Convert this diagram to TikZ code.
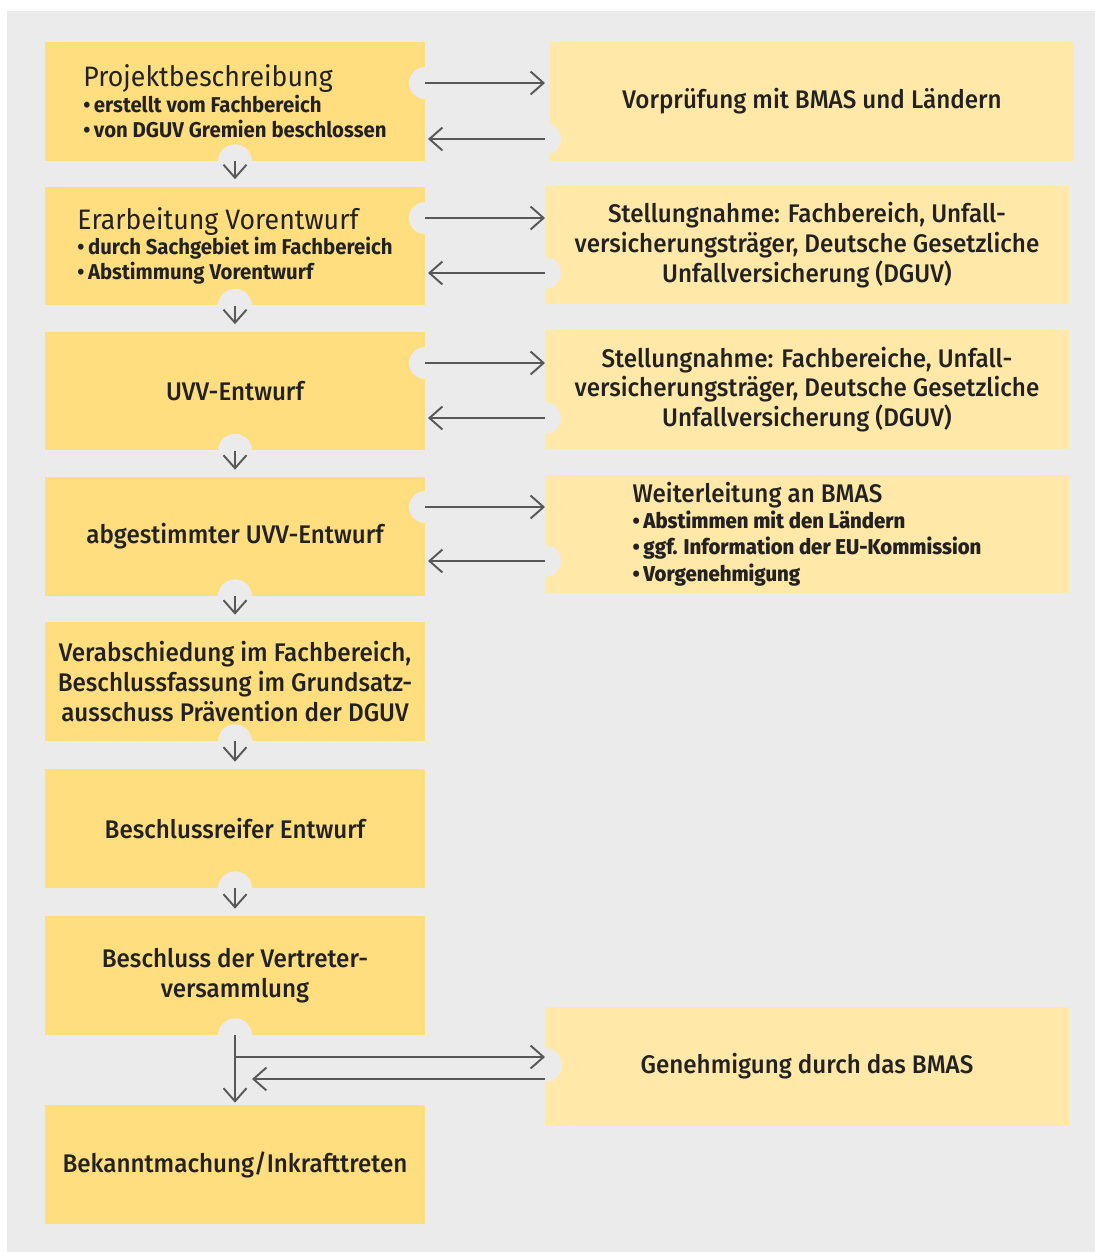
\documentclass[tikz,border=0pt]{standalone}
\usepackage{fontspec}
\setmainfont{Fira Sans}[FakeStretch=0.95]
\newfontfamily\medfont{Fira Sans Medium}[FakeStretch=0.95]
\usetikzlibrary{arrows.meta}

\definecolor{bggrey}{HTML}{EBEBEB}
\definecolor{stepyellow}{HTML}{FFDE80}
\definecolor{noteyellow}{HTML}{FFE8A8}
\definecolor{arrowgrey}{HTML}{585858}
\definecolor{inkdark}{HTML}{222222}

\newcommand{\itemfont}{\fontsize{12.2pt}{14.4pt}\selectfont\bfseries}
\newcommand{\bul}{\textbullet\,}

\tikzset{
  stepbox/.style={fill=stepyellow, text=inkdark, minimum width=7.6cm, minimum height=2.38cm,
    inner sep=0pt, align=center, font=\medfont\fontsize{14.5pt}{17pt}\selectfont},
  notebox/.style={fill=noteyellow, text=inkdark, minimum width=10.48cm, minimum height=2.38cm,
    inner sep=0pt, align=center, font=\medfont\fontsize{14.5pt}{17pt}\selectfont},
  titled/.style={align=left, font=\fontsize{16pt}{14.4pt}\selectfont},
  notch/.style={fill=bggrey},
  flow/.style={draw=arrowgrey, line width=1.1pt, -{Straight Barb[length=0.26cm,width=0.46cm,line width=1.1pt]}},
}

\begin{document}
\begin{tikzpicture}[x=0.02cm,y=-0.02cm]
  \useasboundingbox (0,0) rectangle (1095,1252);
  \fill[bggrey] (7,11) rectangle (1095,1252);

  % left column
  \node[stepbox,titled] (proj) at (235,101.5) {Projektbeschreibung\\{\itemfont\bul erstellt vom Fachbereich}\\{\itemfont\bul von DGUV Gremien beschlossen}};
  \node[stepbox,titled] (erarb) at (235,246) {Erarbeitung Vorentwurf\\{\itemfont\bul durch Sachgebiet im Fachbereich}\\{\itemfont\bul Abstimmung Vorentwurf}};
  \node[stepbox] (uvv) at (235,391) {UVV-Entwurf};
  \node[stepbox] (abgest) at (235,536.5) {abgestimmter UVV-Entwurf};
  \node[stepbox] (verab) at (235,681.5) {Verabschiedung im Fachbereich,\\Beschlussfassung im Grundsatz-\\ausschuss Prävention der DGUV};
  \node[stepbox] (reif) at (235,828.5) {Beschlussreifer Entwurf};
  \node[stepbox] (vertr) at (235,975.5) {Beschluss der Vertreter-\\versammlung};
  \node[stepbox] (bekannt) at (235,1164.5) {Bekanntmachung/Inkrafttreten};

  % right column
  \node[notebox] (vorpr) at (812,101.5) {Vorprüfung mit BMAS und Ländern};
  \node[notebox] (stell1) at (807,245) {Stellungnahme: Fachbereich, Unfall-\\versicherungsträger, Deutsche Gesetzliche\\Unfallversicherung (DGUV)};
  \node[notebox] (stell2) at (807,389.5) {Stellungnahme: Fachbereiche, Unfall-\\versicherungsträger, Deutsche Gesetzliche\\Unfallversicherung (DGUV)};
  \node[notebox,titled,font=\medfont\fontsize{14.5pt}{14.9pt}\selectfont] (weiter) at (807,534) {Weiterleitung an BMAS\\{\itemfont\bul Abstimmen mit den Ländern}\\{\itemfont\bul ggf. Information der EU-Kommission}\\{\itemfont\bul Vorgenehmigung}};
  \node[notebox] (genehm) at (807,1066.5) {Genehmigung durch das BMAS};

  % arrow ends
  \coordinate (proj-a) at (425,83);   \coordinate (vorpr-a) at (545,83);
  \coordinate (vorpr-b) at (545,139); \coordinate (proj-b) at (428,139);
  \coordinate (erarb-a) at (425,218); \coordinate (stell1-a) at (545,218);
  \coordinate (stell1-b) at (545,273); \coordinate (erarb-b) at (428,273);
  \coordinate (uvv-a) at (425,363);   \coordinate (stell2-a) at (545,363);
  \coordinate (stell2-b) at (545,418); \coordinate (uvv-b) at (428,418);
  \coordinate (abgest-a) at (425,507); \coordinate (weiter-a) at (545,507);
  \coordinate (weiter-b) at (545,561); \coordinate (abgest-b) at (428,561);
  \coordinate (split) at (234,1057);  \coordinate (genehm-a) at (545,1057);
  \coordinate (genehm-b) at (545,1079); \coordinate (vertr-b) at (252,1079);

  % notches
  \foreach \n in {proj-a,erarb-a,uvv-a,abgest-a,vorpr-b,stell1-b,stell2-b,weiter-b}
    \fill[notch] (\n) circle (16);
  \foreach \n in {proj,erarb,uvv,abgest,verab,reif,vertr}
    \fill[notch] (\n.south) circle (17);
  \fill[notch] (545,1065) circle (17);

  % arrows
  \draw[flow] (proj-a) -- (vorpr-a);
  \draw[flow] (vorpr-b) -- (proj-b);
  \draw[flow] (erarb-a) -- (stell1-a);
  \draw[flow] (stell1-b) -- (erarb-b);
  \draw[flow] (uvv-a) -- (stell2-a);
  \draw[flow] (stell2-b) -- (uvv-b);
  \draw[flow] (abgest-a) -- (weiter-a);
  \draw[flow] (weiter-b) -- (abgest-b);
  \draw[flow,shorten >=0.14cm] (proj.south) -- (erarb.north);
  \draw[flow,shorten >=0.14cm] (erarb.south) -- (uvv.north);
  \draw[flow,shorten >=0.14cm] (uvv.south) -- (abgest.north);
  \draw[flow,shorten >=0.14cm] (abgest.south) -- (verab.north);
  \draw[flow,shorten >=0.14cm] (verab.south) -- (reif.north);
  \draw[flow,shorten >=0.14cm] (reif.south) -- (vertr.north);
  \draw[flow,shorten >=0.04cm] (vertr.south) -- (bekannt.north);
  \draw[flow] (split) -- (genehm-a);
  \draw[flow] (genehm-b) -- (vertr-b);
\end{tikzpicture}
\end{document}
